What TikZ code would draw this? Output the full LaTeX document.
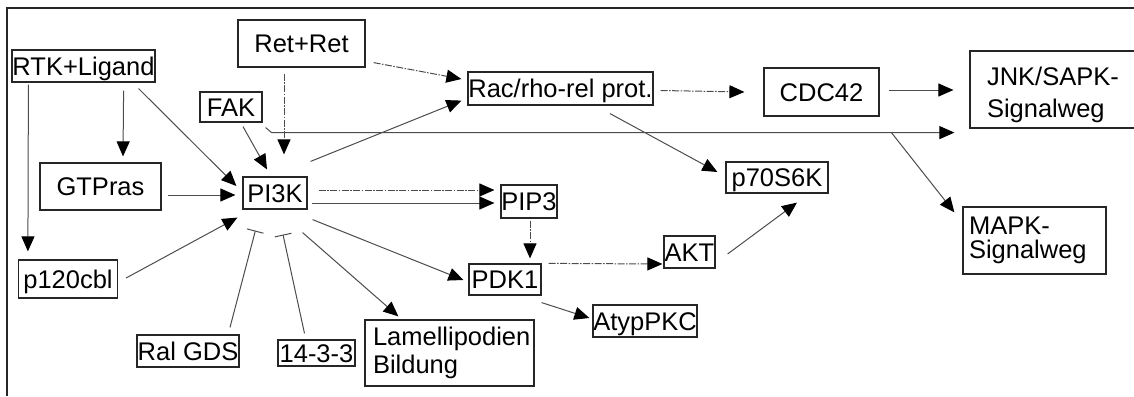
\documentclass[tikz,border=0pt]{standalone}
\usepackage{fontspec}
\setmainfont{Liberation Sans}
\usetikzlibrary{arrows.meta}
\begin{document}
\begin{tikzpicture}[x=1pt,y=-1pt,
  box/.style={draw=black!85, line width=1.2pt, inner sep=0pt, font=\fontsize{25.5}{28}\selectfont, text height=18pt, text depth=0pt},
  mbox/.style={draw=black!85, line width=1.2pt, inner ysep=0pt, align=left},
  con/.style={draw=black!70, line width=1pt},
  arr/.style={con, -{Triangle[length=15pt,width=13pt,black]}},
  darr/.style={arr, dash pattern=on 7pt off 1.5pt on 1.5pt off 1.5pt},
  inh/.style={con, -{Bar[width=17pt,line width=1pt]}}
]
\useasboundingbox (0,0) rectangle (1134,396);
\draw[line width=1.5pt, black!85] (7,396) -- (7,8) -- (1134,8);

% nodes
\node[box, minimum width=143pt, minimum height=32pt] (rtk) at (83.5,66) {RTK+Ligand};
\node[box, minimum width=127pt, minimum height=47pt] (ret) at (301.5,43.5) {Ret+Ret\hspace{12pt}};
\node[box, minimum width=62pt, minimum height=30pt] (fak) at (231,107) {FAK};
\node[box, minimum width=121pt, minimum height=47pt] (gtp) at (100.5,186.5) {GTPras};
\node[box, minimum width=64pt, minimum height=32pt] (pi3k) at (275,193) {PI3K};
\node[box, minimum width=99pt, minimum height=38pt] (p120) at (68,279) {p120cbl};
\node[box, minimum width=102pt, minimum height=32pt] (ral) at (188,351) {Ral GDS};
\node[box, minimum width=77pt, minimum height=26pt] (b1433) at (316.5,353) {14-3-3};
\node[mbox, font=\fontsize{25.5}{28}\selectfont, text width=153pt, inner xsep=8pt, minimum height=66pt] (lam) at (449.5,353) {Lamellipodien\\Bildung};
\node[box, minimum width=56pt, minimum height=33pt] (pip3) at (529,201.5) {PIP3};
\node[box, minimum width=72pt, minimum height=31pt] (pdk1) at (505,279.5) {PDK1};
\node[box, minimum width=51pt, minimum height=32pt] (akt) at (689.5,252) {AKT};
\node[box, minimum width=104pt, minimum height=32pt] (atyp) at (645,321) {AtypPKC};
\node[box, minimum width=185pt, minimum height=33pt] (rac) at (560.5,88.5) {Rac/rho-rel prot.};
\node[box, minimum width=115pt, minimum height=48pt] (cdc) at (821.5,92) {CDC42};
\node[mbox, font=\fontsize{25.5}{32}\selectfont, text width=140pt, inner xsep=17pt, minimum height=77pt] (jnk) at (1057,89.5) {\rule{0pt}{30pt}JNK/SAPK-\\Signalweg};
\node[box, minimum width=102pt, minimum height=31pt] (p70) at (777,177.5) {p70S6K};
\node[mbox, font=\fontsize{25.5}{24}\selectfont, text width=131pt, inner xsep=6pt, minimum height=67pt] (mapk) at (1034.5,240.5) {MAPK-\\Signalweg};

% connectors
\draw[arr] ([shift={(17,2)}]rtk.south west) -- ([shift={(10,-8)}]p120.north west);
\draw[arr] ([shift={(-32,8)}]rtk.south east) -- ([shift={(22.5,-6)}]gtp.north);
\draw[arr] ([shift={(-17,6)}]rtk.south east) -- ([shift={(-6,-7)}]pi3k.west);
\draw[darr] ([shift={(-17.5,6)}]ret.south) -- ([shift={(9,-22)}]pi3k.north);
\draw[darr] ([shift={(8,-5)}]ret.south east) -- ([shift={(-6,-9.5)}]rac.west);
\draw[arr] ([shift={(12,4)}]fak.south) -- ([shift={(-8,-7)}]pi3k.north);
\coordinate (fk) at ([shift={(9,10)}]fak.south east);
\draw[arr] ([shift={(3,5)}]fak.south east) -- (fk) -- ([shift={(-15,4)}]jnk.south west);
\coordinate (br) at ([shift={(-78,4)}]jnk.south west);
\draw[arr] (br) -- ([shift={(-8,6)}]mapk.north west);
\draw[arr] ([shift={(3,-15)}]pi3k.north east) -- ([shift={(-6,-5)}]rac.south west);
\draw[arr] ([shift={(6,8.5)}]gtp.east) -- ([shift={(-7,2)}]pi3k.west);
\draw[darr] ([shift={(11,-3)}]pi3k.east) -- ([shift={(-6,-11.5)}]pip3.west);
\draw[arr] ([shift={(4,10)}]pi3k.east) -- ([shift={(-6,1.5)}]pip3.west);
\draw[arr] ([shift={(8,-1)}]p120.east) -- ([shift={(-5,8)}]pi3k.south west);
\draw[inh] ([shift={(42,-7)}]ral.north) -- ([shift={(13,21)}]pi3k.south west);
\draw[inh] ([shift={(-12,-6)}]b1433.north) -- ([shift={(8,25)}]pi3k.south);
\draw[arr] ([shift={(-5,23)}]pi3k.south east) -- ([shift={(34,-3)}]lam.north west);
\draw[arr] ([shift={(5,10)}]pi3k.south east) -- ([shift={(-5,0.5)}]pdk1.west);
\draw[darr] ([shift={(1,2)}]pip3.south) -- ([shift={(25,-5)}]pdk1.north);
\draw[darr] ([shift={(7,0)}]pdk1.north east) -- ([shift={(-1,12)}]akt.west);
\draw[arr] ([shift={(0,7)}]pdk1.south east) -- ([shift={(-3,-3)}]atyp.west);
\draw[arr] ([shift={(12,2)}]akt.east) -- ([shift={(20,9)}]p70.south);
\draw[arr] ([shift={(49.5,8)}]rac.south) -- ([shift={(-8,-5.5)}]p70.west);
\draw[darr] ([shift={(7,2)}]rac.east) -- ([shift={(-19,0)}]cdc.west);
\draw[arr] ([shift={(9,-2)}]cdc.east) -- ([shift={(-16,0.5)}]jnk.west);
\end{tikzpicture}
\end{document}
